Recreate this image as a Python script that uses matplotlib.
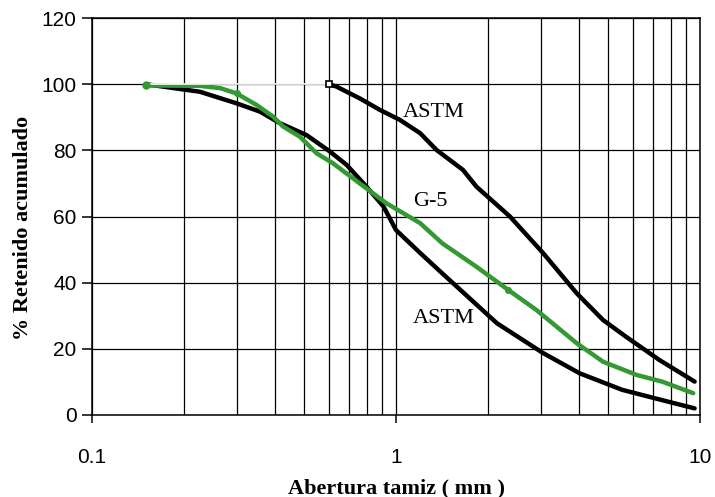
import numpy as np
import matplotlib
matplotlib.use("Agg")
import matplotlib.pyplot as plt
from matplotlib.ticker import FixedLocator, LogLocator, NullFormatter

# curva ASTM superior (limite grueso)
astm_sup_x = [0.6, 0.636, 0.76, 0.886, 1.03, 1.2, 1.36, 1.66, 1.84, 2.37, 3.05,
              3.93, 4.8, 5.7, 7.36, 9.6]
astm_sup_y = [100, 99.3, 95.7, 92.2, 89.2, 85.2, 80.1, 74.1, 69, 60, 48.9,
              36.8, 28.7, 23.7, 16.6, 10.1]

# tramo blanco a 100 % antes de 0.6 mm
astm_sup_blanco_x = [0.15, 0.6]
astm_sup_blanco_y = [100, 100]

# curva ASTM inferior (limite fino)
astm_inf_x = [0.15, 0.2265, 0.299, 0.357, 0.415, 0.508, 0.607, 0.688, 0.80, 0.91,
              1.0, 1.2, 1.42, 2.15, 3.05, 4.02, 5.55, 7.5, 9.6]
astm_inf_y = [100, 97.7, 94.2, 91.7, 88.2, 84.6, 79.6, 75.6, 69, 63,
              55.9, 49, 42.8, 27.7, 18.7, 12.6, 7.6, 4.5, 2]

# arena G-5
g5_x = [0.15, 0.2265, 0.264, 0.299, 0.348, 0.394, 0.425, 0.483, 0.548, 0.62, 0.76,
        0.93, 1.2, 1.42, 1.84, 2.34, 2.9, 3.93, 4.8, 6.19, 7.5, 9.5]
g5_y = [99.6, 99.5, 98.8, 97.2, 93.7, 90.2, 87.2, 84.1, 79.1, 76.1, 70,
        64, 58, 51.9, 44.8, 37.8, 31.7, 21.7, 16.1, 12.1, 10.1, 6.6]

y_ticks = [0, 20, 40, 60, 80, 100, 120]
x_ticks = [0.1, 1, 10]
x_labels = ["0.1", "1", "10"]

verde = "#339933"

fig = plt.figure(figsize=(7.15, 4.97), dpi=100)
ax = fig.add_axes([92 / 715, 1 - 415 / 497, (700 - 92) / 715, (415 - 18) / 497])

ax.set_xscale("log")
ax.set_xlim(0.1, 10)
ax.set_ylim(0, 120)

ax.plot(astm_inf_x, astm_inf_y, color="black", lw=3.2, zorder=3, solid_capstyle="round")
ax.plot(g5_x, g5_y, color=verde, lw=3.2, zorder=4, solid_capstyle="round")
ax.plot(astm_sup_x, astm_sup_y, color="black", lw=3.2, zorder=3, solid_capstyle="round")
ax.plot(astm_sup_blanco_x, astm_sup_blanco_y, color="white", lw=1.2, zorder=5)
ax.plot([g5_x[0]], [g5_y[0]], "o", color=verde, ms=5, zorder=6)
ax.plot([g5_x[3], g5_x[15]], [g5_y[3], g5_y[15]], "o", color=verde, ms=4, zorder=6)
ax.plot([astm_sup_x[0]], [astm_sup_y[0]], "s", mfc="white", mec="black", mew=1.2, ms=5, zorder=6)

ax.xaxis.set_major_locator(FixedLocator(x_ticks))
ax.set_xticklabels(x_labels)
ax.xaxis.set_minor_locator(LogLocator(base=10, subs=np.arange(2, 10)))
ax.xaxis.set_minor_formatter(NullFormatter())
ax.set_yticks(y_ticks)

ax.grid(which="both", axis="x", color="black", lw=0.9)
ax.grid(which="major", axis="y", color="black", lw=0.9)
ax.set_axisbelow(True)

for s in ax.spines.values():
    s.set_linewidth(1.1)

for lab in ax.get_xticklabels() + ax.get_yticklabels():
    lab.set_fontfamily("Liberation Sans")
    lab.set_fontsize(15)
ax.tick_params(axis="x", which="major", length=6, width=1.1, pad=18)
ax.tick_params(axis="x", which="minor", length=0)
ax.tick_params(axis="y", length=7, width=1.1, pad=4)

serif = "Liberation Serif"
ax.text(1.055, 91.3, "ASTM", family=serif, fontsize=16, va="center", ha="left")
ax.text(1.137, 64.4, "G-5", family=serif, fontsize=16, va="center", ha="left")
ax.text(1.137, 29.3, "ASTM", family=serif, fontsize=16, va="center", ha="left")

fig.text(396 / 715, 1 - 488 / 497, "Abertura tamiz ( mm )", family=serif,
         fontweight="bold", fontsize=16, ha="center", va="center")
fig.text(23 / 715, 1 - 340 / 497, "% Retenido acumulado", family=serif,
         fontweight="bold", fontsize=16, ha="center", va="bottom", rotation=90)

fig.savefig("out.png", dpi=100)
